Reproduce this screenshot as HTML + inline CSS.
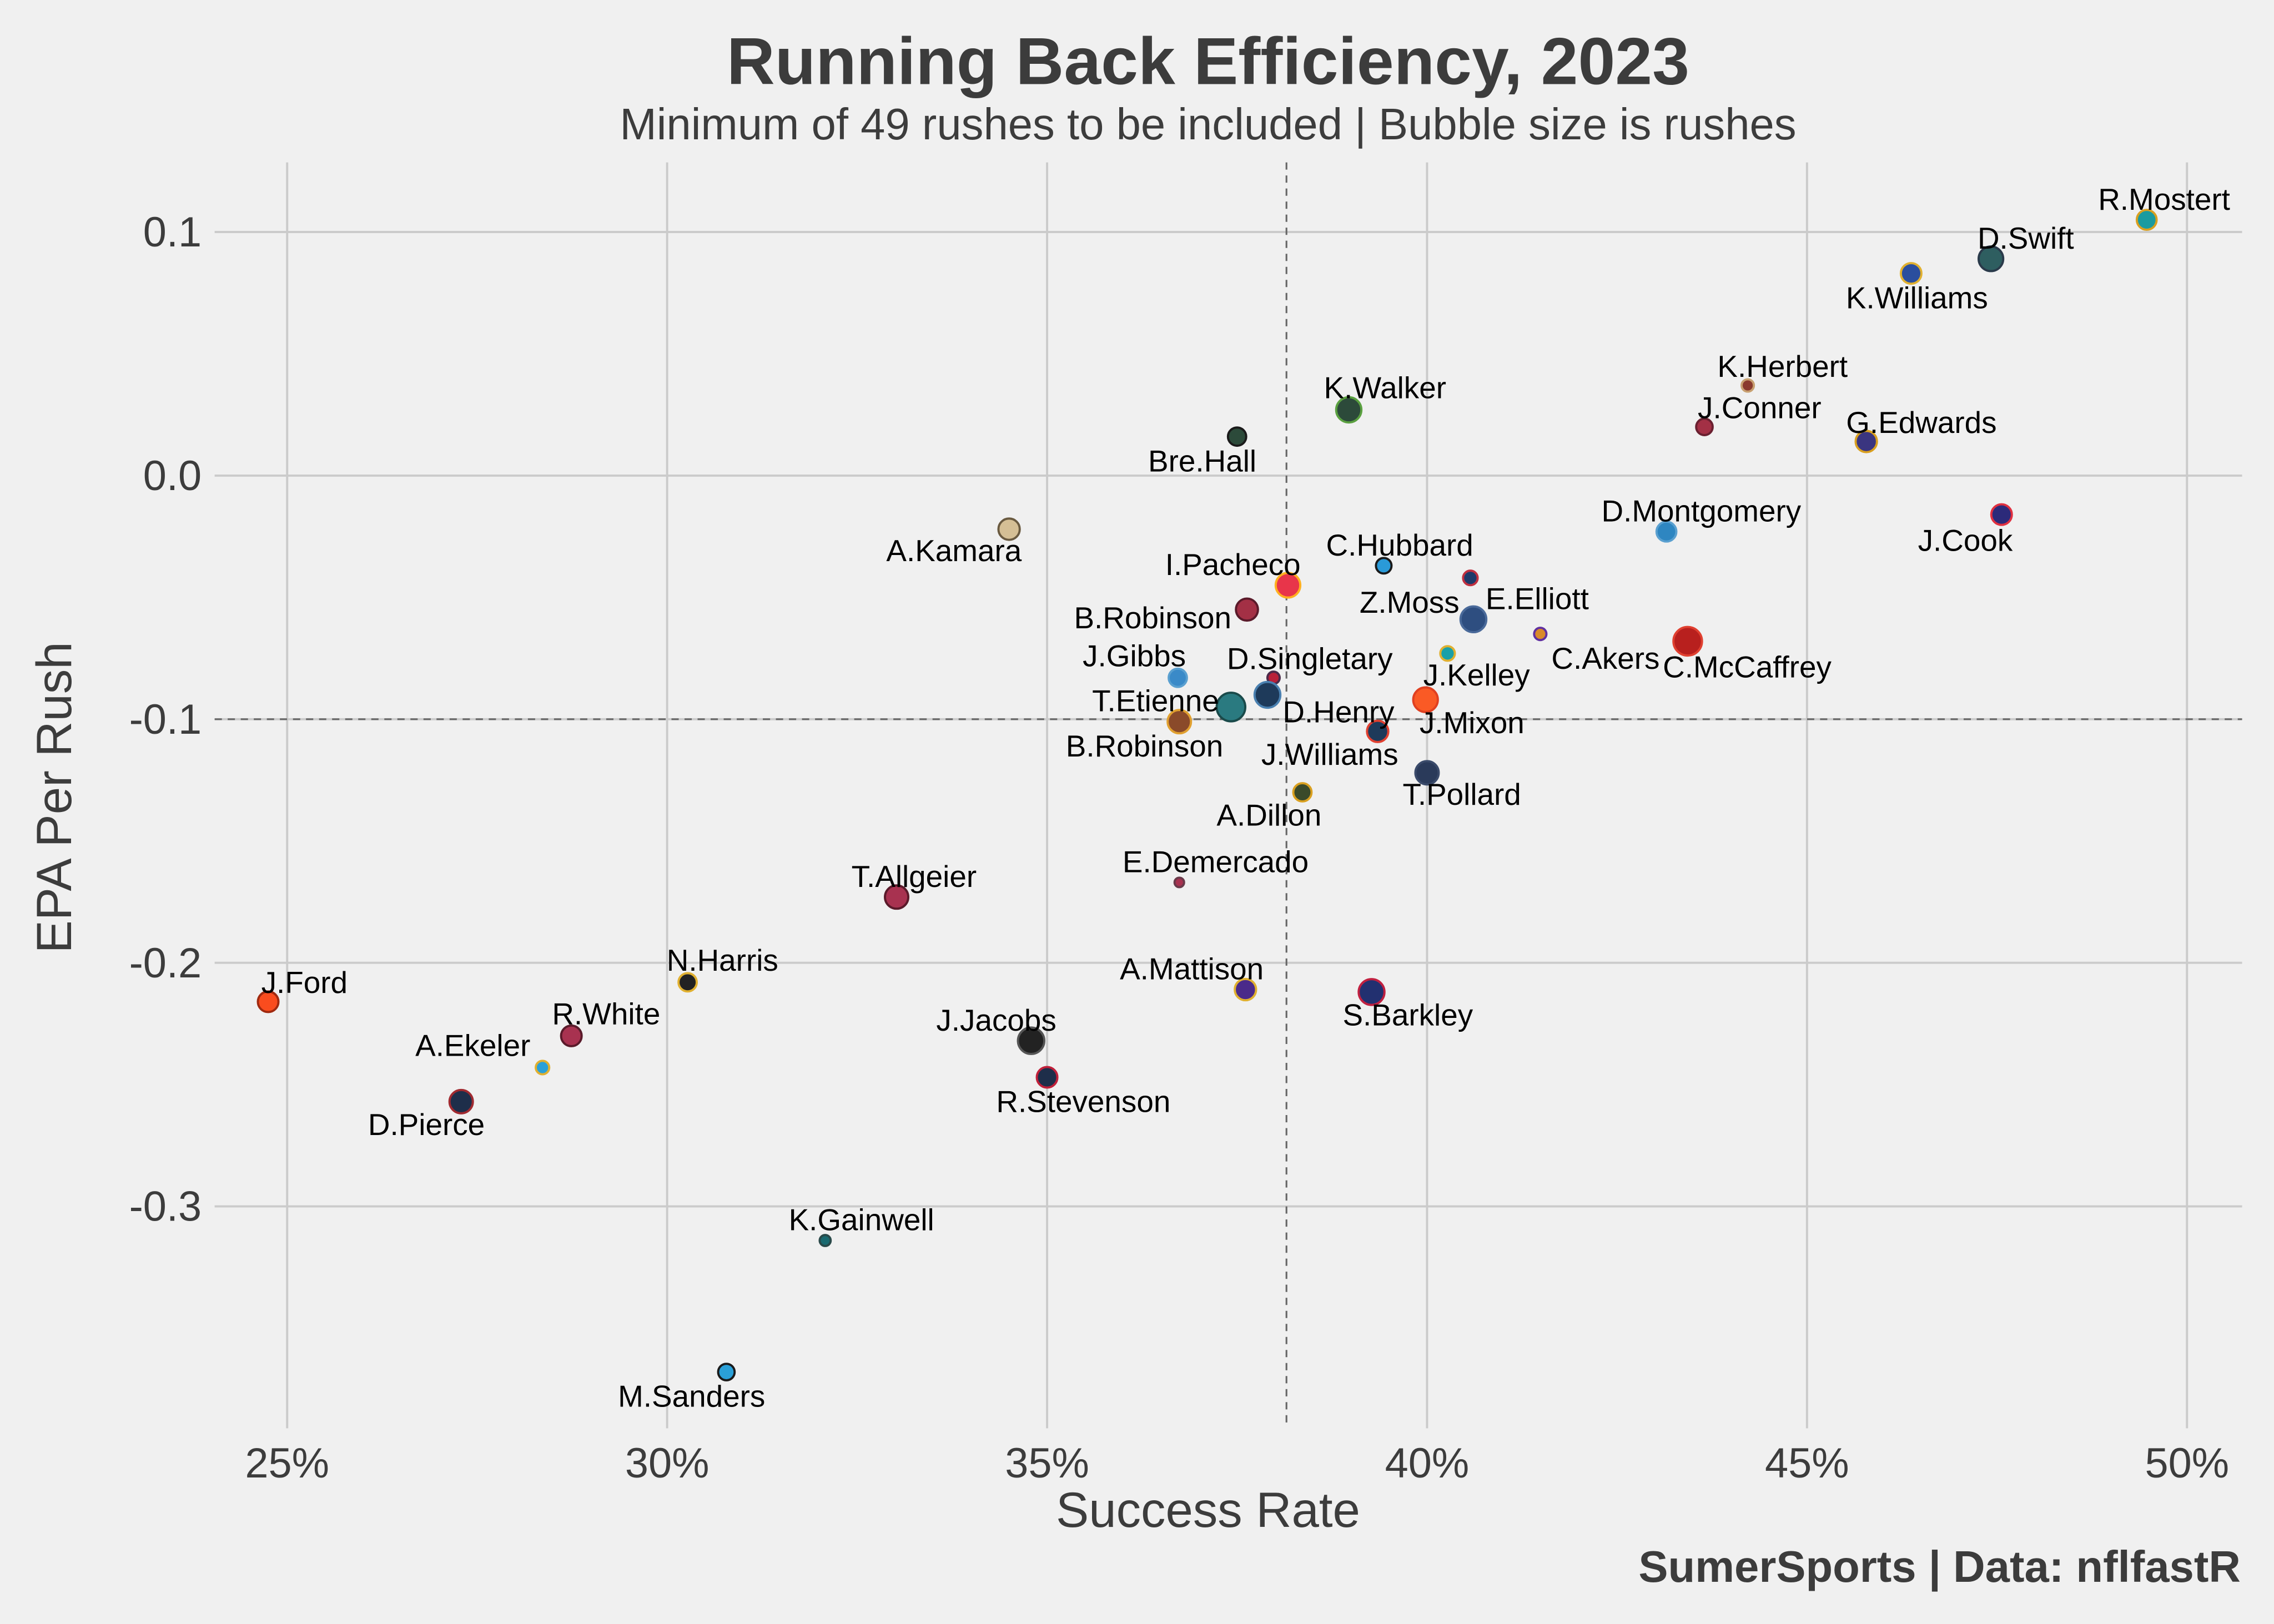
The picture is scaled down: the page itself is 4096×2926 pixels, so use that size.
<!DOCTYPE html>
<html><head><meta charset="utf-8"><style>
html,body{margin:0;padding:0;background:#f0f0f0;}
svg{display:block;}
text{font-family:"Liberation Sans",Arial,sans-serif;}
</style></head><body>
<svg id="chart" width="4096" height="2926" viewBox="0 0 1568 1120" preserveAspectRatio="none" xmlns="http://www.w3.org/2000/svg">
<rect x="0" y="0" width="1568" height="1120" fill="#f0f0f0"/>
<text x="833" y="58" text-anchor="middle" font-size="46" font-weight="bold" fill="#3c3c3c">Running Back Efficiency, 2023</text>
<text x="833" y="96" text-anchor="middle" font-size="30.5" fill="#3c3c3c">Minimum of 49 rushes to be included | Bubble size is rushes</text>
<g id="grid"></g>
<g id="refs"></g>
<g id="points"></g>
<g id="labels"></g>
<g id="ticks"></g>
<text x="833" y="1053" text-anchor="middle" font-size="34" fill="#3c3c3c">Success Rate</text>
<text transform="translate(49,550) rotate(-90)" text-anchor="middle" font-size="34" fill="#3c3c3c">EPA Per Rush</text>
<text x="1545" y="1091" text-anchor="end" font-size="30.5" font-weight="bold" fill="#3c3c3c">SumerSports | Data: nflfastR</text>
</svg>
<script>
const names=["R.Mostert","D.Swift","K.Williams","K.Herbert","J.Conner","G.Edwards","K.Walker","Bre.Hall","A.Kamara","D.Montgomery","J.Cook","C.Hubbard","I.Pacheco","B.Robinson","Z.Moss","E.Elliott","C.Akers","C.McCaffrey","J.Gibbs","D.Singletary","D.Henry","T.Etienne","B.Robinson","J.Kelley","J.Mixon","J.Williams","T.Pollard","A.Dillon","E.Demercado","T.Allgeier","N.Harris","J.Ford","R.White","A.Ekeler","D.Pierce","J.Jacobs","R.Stevenson","A.Mattison","S.Barkley","K.Gainwell","M.Sanders"];
const successRate=[49.47,47.42,46.37,44.22,43.65,45.78,38.97,37.5,34.5,43.15,47.56,39.43,38.17,37.63,40.57,40.61,41.49,43.43,36.72,37.98,37.9,37.42,36.74,40.27,39.98,39.35,40.0,38.36,36.74,33.02,30.27,24.75,28.74,28.36,27.29,34.79,35.0,37.61,39.27,32.08,30.78];
const epa=[0.105,0.089,0.083,0.037,0.020,0.014,0.027,0.016,-0.022,-0.023,-0.016,-0.037,-0.045,-0.055,-0.042,-0.059,-0.065,-0.068,-0.083,-0.083,-0.090,-0.095,-0.101,-0.073,-0.092,-0.105,-0.122,-0.130,-0.167,-0.173,-0.208,-0.216,-0.230,-0.243,-0.257,-0.232,-0.247,-0.211,-0.212,-0.314,-0.368];
const rushes=[130,200,140,50,90,150,210,110,150,130,140,80,200,160,70,220,50,270,110,50,220,270,180,70,200,150,180,110,30,180,110,140,140,60,180,230,140,150,220,40,90];
const xTicks=[25,30,35,40,45,50];
const yTicks=[0.1,0,-0.1,-0.2,-0.3];
const medianX=38.15, medianY=-0.1;
const fills=["#1a9ba0","#2e5e60","#2a4e9e","#8a3a2e","#a33045","#3a3580","#2c4a3a","#2c4a3a","#d5bf95","#2e86c1","#2c2a7a","#2a9ad8","#e8354a","#a33045","#1e3a6a","#2e4e80","#d98a2a","#b8201e","#3a8ac8","#b8203a","#1e3a5a","#2a7a80","#8a4a2a","#1aa0a8","#fa5a25","#1e3a5a","#2a3a5a","#3a4a2a","#a83250","#a83250","#222222","#fa4c1e","#a83250","#2aa0d8","#1e2e4a","#222222","#1e2e4a","#4a2a8a","#223070","#1a6a70","#2aa0d8"];
const edges=["#d9a020","#2a3a4a","#e0b030","#c8a070","#6a2030","#d9a020","#5aa040","#1a1a1a","#6a5a40","#5aa0d0","#e03040","#1a1a1a","#ffb020","#5a1a2a","#c03040","#4a6a9a","#6030a0","#e04030","#5aa0d0","#4a2a4a","#4a80b0","#1a4a4a","#e0a030","#e0b030","#e04020","#e04030","#3a4a6a","#d9a020","#6a3a4a","#5a1a2a","#e0b030","#a02a10","#5a1a2a","#e0b030","#a02a30","#555","#c0203a","#e0b030","#c02040","#2a4a4a","#1a1a1a"];
const ldx=[12,24,4,24,38,38,25,-24,-38,24,-25,11,-38,-65,-42,44,45,41,-30,25,49,-52,-24,20,32,-33,24,-23,25,12,24,25,24,-48,-24,-24,25,-37,25,25,-24];
const ldy=[-14,-14,17,-13,-13,-13,-15,17,15,-14,18,-14,-14,6,17,-14,17,18,-15,-13,12,-4,17,15,16,16,15,16,-14,-14,-15,-13,-15,-15,16,-14,17,-14,16,-14,17];
const NS="http://www.w3.org/2000/svg";
const X0=148,X1=1546,Y0=112,Y1=985;
function sx(v){return 198+(v-25)*52.4;}
function sy(v){return 328-v*1680;}
function el(tag,attrs,parent){const e=document.createElementNS(NS,tag);for(const k in attrs)e.setAttribute(k,attrs[k]);parent.appendChild(e);return e;}
const grid=document.getElementById('grid'),ticks=document.getElementById('ticks');
xTicks.forEach(t=>{
  const l=el('line',{x1:sx(t),x2:sx(t),y1:Y0,y2:Y1,stroke:'#cbcbcb','stroke-width':1.5},grid);
  
  
  const tx=el('text',{x:sx(t),y:1019,'text-anchor':'middle','font-size':29,fill:'#3c3c3c'},ticks);
  tx.textContent=t+'%';
  
  
});
yTicks.forEach(t=>{
  const l=el('line',{x1:X0,x2:X1,y1:sy(t),y2:sy(t),stroke:'#cbcbcb','stroke-width':1.5},grid);
  
  
  const tx=el('text',{x:139,y:sy(t)+10,'text-anchor':'end','font-size':29,fill:'#3c3c3c'},ticks);
  tx.textContent=t.toFixed(1);
  
  
});
const refs=document.getElementById('refs');
const vl=el('line',{x1:sx(medianX),x2:sx(medianX),y1:Y0,y2:Y1,stroke:'#666','stroke-width':1.2,'stroke-dasharray':'5,4'},refs);


const hl=el('line',{x1:X0,x2:X1,y1:sy(medianY),y2:sy(medianY),stroke:'#666','stroke-width':1.2,'stroke-dasharray':'5,4'},refs);


const pts=document.getElementById('points'),labs=document.getElementById('labels');
names.forEach((n,i)=>{
  const cx=sx(successRate[i]),cy=sy(epa[i]);
  const r=Math.sqrt(rushes[i])*0.6;
  const c=el('circle',{cx:cx,cy:cy,r:r,fill:fills[i],stroke:edges[i],'stroke-width':1.5},pts);
  
  
  const t=el('text',{x:cx+ldx[i],y:cy+ldy[i]+7,'text-anchor':'middle','font-size':21,fill:'#000'},labs);
  t.textContent=n;
  
  
});
</script>
</body></html>
